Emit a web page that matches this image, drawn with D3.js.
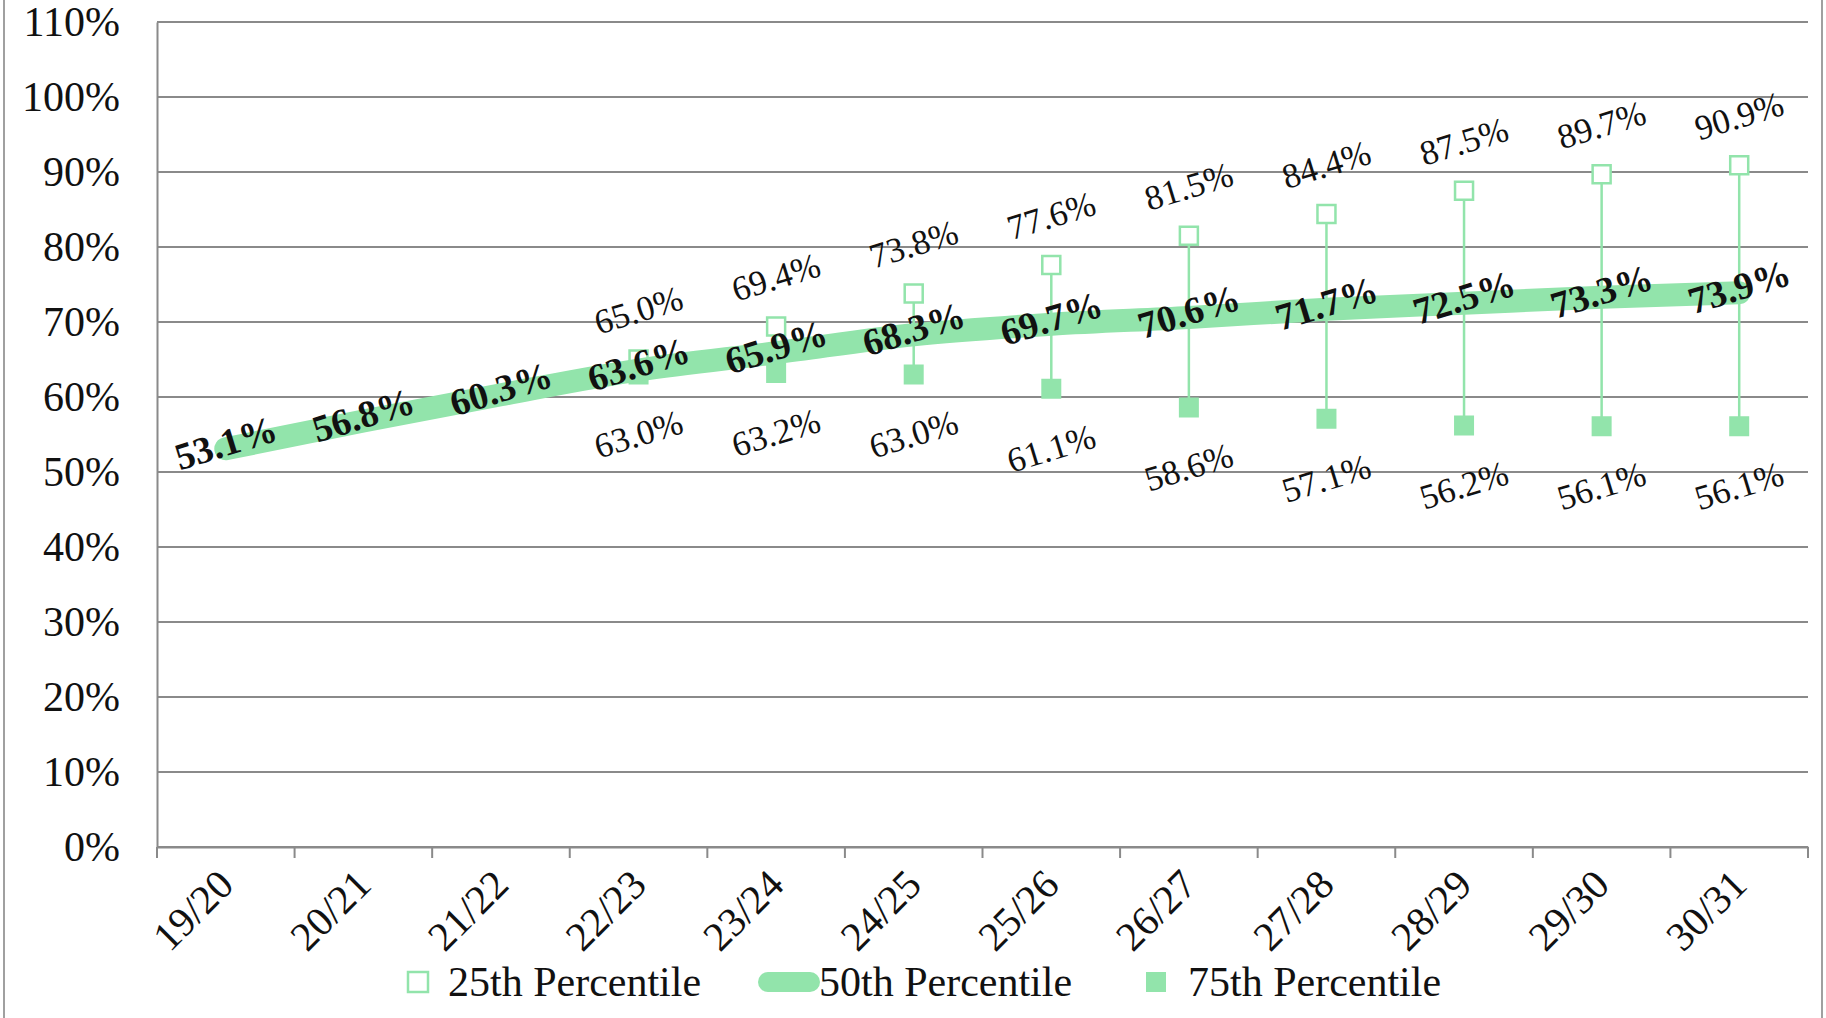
<!DOCTYPE html>
<html>
<head>
<meta charset="utf-8">
<script src="https://cdn.jsdelivr.net/npm/d3@7/dist/d3.min.js"></script>
<style>
html,body{margin:0;padding:0;background:#fff;}
svg{display:block;}
</style>
</head>
<body>
<svg id="chart" width="1826" height="1018"></svg>
<script>
const categories = ["19/20","20/21","21/22","22/23","23/24","24/25","25/26","26/27","27/28","28/29","29/30","30/31"];
const p25 = [null,null,null,0.650,0.694,0.738,0.776,0.815,0.844,0.875,0.897,0.909];
const p50 = [0.531,0.568,0.603,0.636,0.659,0.683,0.697,0.706,0.717,0.725,0.733,0.739];
const p75 = [null,null,null,0.630,0.632,0.630,0.611,0.586,0.571,0.562,0.561,0.561];
const yTicks = [0,0.1,0.2,0.3,0.4,0.5,0.6,0.7,0.8,0.9,1.0,1.1];
const seriesNames = ["25th Percentile","50th Percentile","75th Percentile"];

(function(){
const GREEN = "#92e4ab";
const GRID = "#8a8a8a";
const FONT = "'Liberation Serif','Times New Roman',serif";

const svg = d3.select("#chart");
const W = 1826, H = 1018;
const pL = 157, pR = 1808, pT = 22, pB = 847;

svg.append("rect").attr("x",4).attr("y",-10).attr("width",W-8).attr("height",H+20)
  .attr("fill","none").attr("stroke","#a0a0a0").attr("stroke-width",2);

const x = d3.scaleBand().domain(categories).range([pL,pR]).padding(0);
const y = d3.scaleLinear().domain([0,1.1]).range([pB,pT]);
const cx = c => x(c) + x.bandwidth()/2;
const fmt = d3.format(".1%");

svg.append("g").selectAll("line").data(yTicks).join("line")
  .attr("x1",pL).attr("x2",pR)
  .attr("y1",d=>y(d)).attr("y2",d=>y(d))
  .attr("stroke",GRID).attr("stroke-width",2);

const yAxis = svg.append("g").attr("transform",`translate(${pL},0)`)
  .call(d3.axisLeft(y).tickValues(yTicks).tickFormat(d3.format(".0%")).tickSize(0).tickPadding(37));
yAxis.select(".domain").attr("stroke",GRID).attr("stroke-width",2);
yAxis.selectAll("text").attr("font-family",FONT).attr("font-size",42).attr("fill","#111");

const xAxis = svg.append("g").attr("transform",`translate(0,${pB})`)
  .call(d3.axisBottom(x).tickSize(0).tickFormat(""));
xAxis.select(".domain").attr("stroke",GRID).attr("stroke-width",2);
const boundaries = categories.map(c=>x(c)).concat([pR]);
svg.append("g").selectAll("line").data(boundaries).join("line")
  .attr("x1",d=>d).attr("x2",d=>d).attr("y1",pB).attr("y2",pB+11)
  .attr("stroke",GRID).attr("stroke-width",2);
svg.append("g").selectAll("text").data(categories).join("text")
  .attr("transform",d=>`translate(${cx(d)},${pB+30}) rotate(-45)`)
  .attr("text-anchor","end").attr("dominant-baseline","central")
  .attr("font-family",FONT).attr("font-size",41).attr("fill","#111")
  .text(d=>d);

const rows = categories.map((c,i)=>({c, a:p25[i], m:p50[i], b:p75[i]}));
const ranged = rows.filter(r=>r.a!=null && r.b!=null);

svg.append("g").selectAll("line").data(ranged).join("line")
  .attr("x1",r=>cx(r.c)).attr("x2",r=>cx(r.c))
  .attr("y1",r=>y(r.a)).attr("y2",r=>y(r.b))
  .attr("stroke",GREEN).attr("stroke-width",2.5);

const MS = 18;
svg.append("g").selectAll("rect").data(ranged).join("rect")
  .attr("x",r=>cx(r.c)-MS/2).attr("y",r=>y(r.a)-MS/2)
  .attr("width",MS).attr("height",MS)
  .attr("fill","#fff").attr("stroke",GREEN).attr("stroke-width",2.5);
svg.append("g").selectAll("rect").data(ranged).join("rect")
  .attr("x",r=>cx(r.c)-10).attr("y",r=>y(r.b)-10)
  .attr("width",20).attr("height",20)
  .attr("fill",GREEN);

const line = d3.line().x(r=>cx(r.c)).y(r=>y(r.m)).curve(d3.curveMonotoneX);
svg.append("path").datum(rows).attr("d",line)
  .attr("fill","none").attr("stroke",GREEN).attr("stroke-width",23)
  .attr("stroke-linecap","round").attr("stroke-linejoin","round");

const ROT = -17;
svg.append("g").selectAll("text").data(ranged).join("text")
  .attr("transform",r=>`translate(${cx(r.c)},${y(r.a)-49}) rotate(${ROT})`)
  .attr("text-anchor","middle").attr("dominant-baseline","central")
  .attr("font-family",FONT).attr("font-size",35).attr("fill","#111")
  .text(r=>fmt(r.a));
svg.append("g").selectAll("text").data(ranged).join("text")
  .attr("transform",r=>`translate(${cx(r.c)},${y(r.b)+60}) rotate(${ROT})`)
  .attr("text-anchor","middle").attr("dominant-baseline","central")
  .attr("font-family",FONT).attr("font-size",35).attr("fill","#111")
  .text(r=>fmt(r.b));
svg.append("g").selectAll("text").data(rows).join("text")
  .attr("transform",r=>`translate(${cx(r.c)},${y(r.m)-6}) rotate(${ROT})`)
  .attr("text-anchor","middle").attr("dominant-baseline","central")
  .attr("font-family",FONT).attr("font-size",38).attr("font-weight","bold").attr("fill","#111")
  .text(r=>fmt(r.m));

const ly = 982;
const lg = svg.append("g");
lg.append("rect").attr("x",408).attr("y",ly-10).attr("width",20).attr("height",20)
  .attr("fill","#fff").attr("stroke",GREEN).attr("stroke-width",2.5);
lg.append("text").attr("x",448).attr("y",ly).attr("dominant-baseline","central")
  .attr("font-family",FONT).attr("font-size",42).attr("fill","#111").text(seriesNames[0]);
lg.append("line").attr("x1",768).attr("x2",810).attr("y1",ly).attr("y2",ly)
  .attr("stroke",GREEN).attr("stroke-width",20).attr("stroke-linecap","round");
lg.append("text").attr("x",819).attr("y",ly).attr("dominant-baseline","central")
  .attr("font-family",FONT).attr("font-size",42).attr("fill","#111").text(seriesNames[1]);
lg.append("rect").attr("x",1146).attr("y",ly-10).attr("width",20).attr("height",20)
  .attr("fill",GREEN);
lg.append("text").attr("x",1188).attr("y",ly).attr("dominant-baseline","central")
  .attr("font-family",FONT).attr("font-size",42).attr("fill","#111").text(seriesNames[2]);
})();
</script>
</body>
</html>
